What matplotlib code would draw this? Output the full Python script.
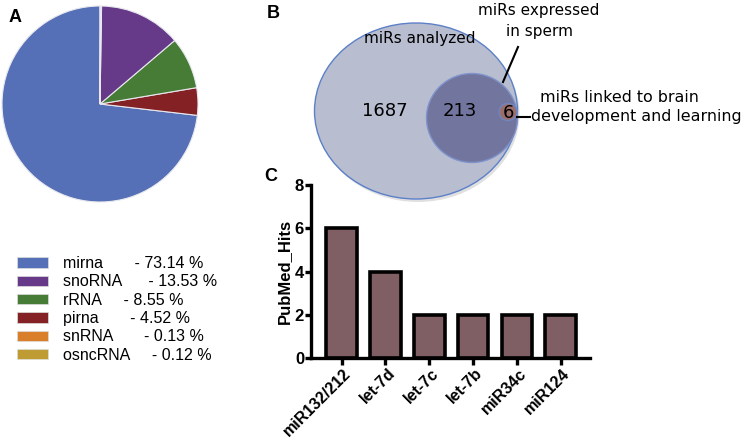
import matplotlib
matplotlib.use('Agg')
import matplotlib.pyplot as plt
from matplotlib.patches import Ellipse

# A: small RNA composition
rna_names = ['mirna', 'snoRNA', 'rRNA', 'pirna', 'snRNA', 'osncRNA']
rna_pct = [73.14, 13.53, 8.55, 4.52, 0.13, 0.12]
rna_colors = ['#5570b6', '#663a88', '#477c37', '#832124', '#d97f2b', '#bf9c33']
label_pad = [7, 6, 5, 7, 7, 5]
# wedge order around the pie (counter-clockwise from 12 o'clock)
pie_order = [0, 3, 2, 1, 4, 5]

# B: Venn counts
venn_counts = [1687, 213, 6]
venn_labels = ['miRs analyzed', 'miRs expressed\nin sperm',
               'miRs linked to brain', 'development and learning']

# C: PubMed hits
mirs = ['miR132/212', 'let-7d', 'let-7c', 'let-7b', 'miR34c', 'miR124']
hits = [6, 4, 2, 2, 2, 2]

W, H = 744, 441
fig = plt.figure(figsize=(W / 100, H / 100), dpi=100)
plt.rcParams['font.family'] = ['Liberation Sans', 'DejaVu Sans']


def box(x0, y0, x1, y1):
    # pixel box (top-left origin) -> figure fraction
    return [x0 / W, 1 - y1 / H, (x1 - x0) / W, (y1 - y0) / H]


# ---- A: pie
ax_p = fig.add_axes(box(2, 6, 198, 202))
wedges, _ = ax_p.pie([rna_pct[i] for i in pie_order],
                     colors=[rna_colors[i] for i in pie_order],
                     startangle=90, counterclock=True,
                     wedgeprops=dict(edgecolor='#e8e8ee', linewidth=0.8))
ax_p.set_xlim(-1, 1)
ax_p.set_ylim(-1, 1)
ax_p.set_aspect('equal')

handles = [plt.Rectangle((0, 0), 1, 1, facecolor=c, edgecolor='#dddddd', linewidth=0.5)
           for c in rna_colors]
labels = [f"{n}{' ' * p}- {v:.2f} %" for n, v, p in zip(rna_names, rna_pct, label_pad)]
fig.legend(handles, labels, loc='upper left', bbox_to_anchor=(17 / W, 1 - 256 / H),
           frameon=False, fontsize=11.5, handlelength=1.95, handleheight=0.62,
           handletextpad=0.9, labelspacing=0.21, borderaxespad=0, borderpad=0)

# ---- B: Venn (drawn on a full-figure overlay in pixel units)
ax_v = fig.add_axes([0, 0, 1, 1])
ax_v.set_xlim(0, W)
ax_v.set_ylim(H, 0)
ax_v.axis('off')
ax_v.add_patch(Ellipse((418, 114), 203, 176, facecolor='#d9d9d9', edgecolor='none', alpha=0.8))
ax_v.add_patch(Ellipse((416, 111), 203, 176, facecolor='#b8bdd0', edgecolor='#5c80c8', linewidth=1))
ax_v.add_patch(Ellipse((472, 118), 91, 89, facecolor='#72769f', edgecolor='#7f93cc', linewidth=1))
ax_v.add_patch(Ellipse((508, 112), 18, 17, facecolor='#9a6e6c', edgecolor='#6f86c2', linewidth=1))
ax_v.text(385, 111, str(venn_counts[0]), fontsize=13, family='DejaVu Sans', ha='center', va='center')
ax_v.text(460, 111, str(venn_counts[1]), fontsize=13, family='DejaVu Sans', ha='center', va='center')
ax_v.text(508, 113, str(venn_counts[2]), fontsize=13, family='DejaVu Sans', ha='center', va='center')
ax_v.text(420, 38, venn_labels[0], fontsize=11, family='DejaVu Sans', ha='center', va='center')
ax_v.text(539, 21, venn_labels[1], fontsize=11, family='DejaVu Sans', ha='center', va='center',
          linespacing=1.55)
ax_v.text(619, 98, venn_labels[2], fontsize=11.4, family='DejaVu Sans', ha='center', va='center')
ax_v.text(636, 117, venn_labels[3], fontsize=11.4, family='DejaVu Sans', ha='center', va='center')
ax_v.plot([518, 503], [47, 82], color='black', lw=1.5)
ax_v.plot([517, 530], [117, 117], color='black', lw=1.5)

# ---- C: bar chart
ax_b = fig.add_axes(box(311, 185, 590, 358))
ax_b.patch.set_alpha(0)
x = range(len(mirs))
ax_b.bar(x, hits, width=0.7, color='#7f5f63', edgecolor='black', linewidth=2.6)
ax_b.set_xlim(-0.7, 5.67)
ax_b.set_ylim(0, 8)
ax_b.set_yticks([0, 2, 4, 6, 8])
ax_b.set_xticks(list(x))
ax_b.set_xticklabels([])
# rotated category labels, ending just right of each tick
for i, name in zip(x, mirs):
    ax_b.annotate(name, xy=(i, 0), xycoords=('data', 'axes fraction'),
                  xytext=(7, -13), textcoords='offset pixels', rotation=45,
                  ha='right', va='center', rotation_mode='anchor',
                  fontsize=11.5, fontweight='bold')
for t in ax_b.get_yticklabels():
    t.set_fontweight('bold')
    t.set_fontsize(12)
ax_b.set_ylabel('PubMed_Hits', fontsize=12, fontweight='bold', labelpad=2)
for s in ['top', 'right']:
    ax_b.spines[s].set_visible(False)
for s in ['left', 'bottom']:
    ax_b.spines[s].set_linewidth(2.4)
ax_b.tick_params(axis='both', width=2.4, length=4, pad=1)
ax_b.tick_params(axis='x', length=5)

# panel letters
fig.text(15 / W, 1 - 17 / H, 'A', fontsize=13, fontweight='bold', ha='center', va='center')
fig.text(273 / W, 1 - 14 / H, 'B', fontsize=13, fontweight='bold', ha='center', va='center')
fig.text(271 / W, 1 - 176 / H, 'C', fontsize=13, fontweight='bold', ha='center', va='center')

plt.savefig('out.png', dpi=100)
plt.close()
